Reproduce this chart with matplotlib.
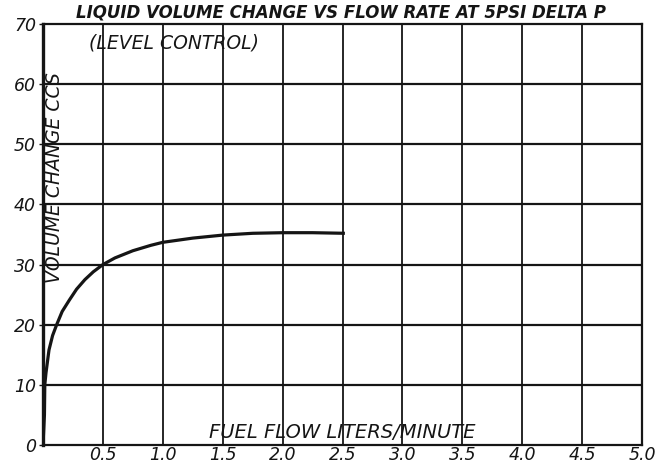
import matplotlib
matplotlib.use("Agg")
import matplotlib.pyplot as plt

# data
flow = [0.0, 0.012, 0.015, 0.025, 0.05, 0.08, 0.114, 0.16, 0.22, 0.28, 0.35, 0.42, 0.5,
        0.6, 0.75, 0.9, 1.0, 1.25, 1.5, 1.75, 2.0, 2.25, 2.52]
volume = [0.0, 5.0, 10.0, 12.0, 15.8, 18.2, 20.0, 22.2, 24.1, 25.9, 27.5, 28.8, 30.0,
          31.1, 32.3, 33.2, 33.7, 34.4, 34.9, 35.2, 35.3, 35.3, 35.2]
x_ticks = [0.5, 1.0, 1.5, 2.0, 2.5, 3.0, 3.5, 4.0, 4.5, 5.0]
x_tick_labels = ["0.5", "1.0", "1.5", "2.0", "2.5", "3.0", "3.5", "4.0", "4.5", "5.0"]
y_ticks = [0, 10, 20, 30, 40, 50, 60, 70]
y_tick_labels = ["0", "10", "20", "30", "40", "50", "60", "70"]
title = "LIQUID VOLUME CHANGE VS FLOW RATE AT 5PSI DELTA P"
subtitle = "(LEVEL CONTROL)"
xlabel = "FUEL FLOW LITERS/MINUTE"
ylabel = "VOLUME CHANGE CCS"

ink = "#151515"
fig = plt.figure(figsize=(6.69, 4.66), dpi=100)
fig.patch.set_facecolor("white")
ax = fig.add_axes([43/669, 1-445/466, (642-43)/669, (445-24)/466])
ax.set_xlim(0, 5.0)
ax.set_ylim(0, 70)

# grid
for xv in x_ticks[:-1]:
    ax.axvline(xv, color=ink, lw=1.3, zorder=1)
for yv in y_ticks[1:-1]:
    ax.axhline(yv, color=ink, lw=1.6, zorder=1)

for s in ax.spines.values():
    s.set_color(ink)
    s.set_linewidth(1.6)
ax.spines["left"].set_linewidth(2.4)

ax.plot(flow, volume, color=ink, lw=2.3, solid_capstyle="butt", zorder=3)

ax.set_xticks(x_ticks)
ax.set_xticklabels(x_tick_labels, fontstyle="italic", fontsize=12.5, color=ink)
ax.set_yticks(y_ticks)
ax.set_yticklabels(y_tick_labels, fontstyle="italic", fontsize=12.5, color=ink)
ax.tick_params(axis="x", length=0, pad=1)
ax.tick_params(axis="y", length=3, width=1, pad=2, color=ink)

ax.text(2.5, 2.0, xlabel, ha="center", va="center", fontstyle="italic",
        fontsize=14, color=ink, zorder=4)
ax.text(0.1, 44.5, ylabel, ha="center", va="center", rotation=90,
        fontstyle="italic", fontsize=13.5, color=ink, zorder=4)
ax.text(1.09, 66.9, subtitle, ha="center", va="center", fontstyle="italic",
        fontsize=13.5, color=ink, zorder=4)
fig.text(341/669, 1-13/466, title, ha="center", va="center", fontstyle="italic",
         fontweight="bold", fontsize=12, color=ink)

fig.savefig("out.png", dpi=100, facecolor="white")
